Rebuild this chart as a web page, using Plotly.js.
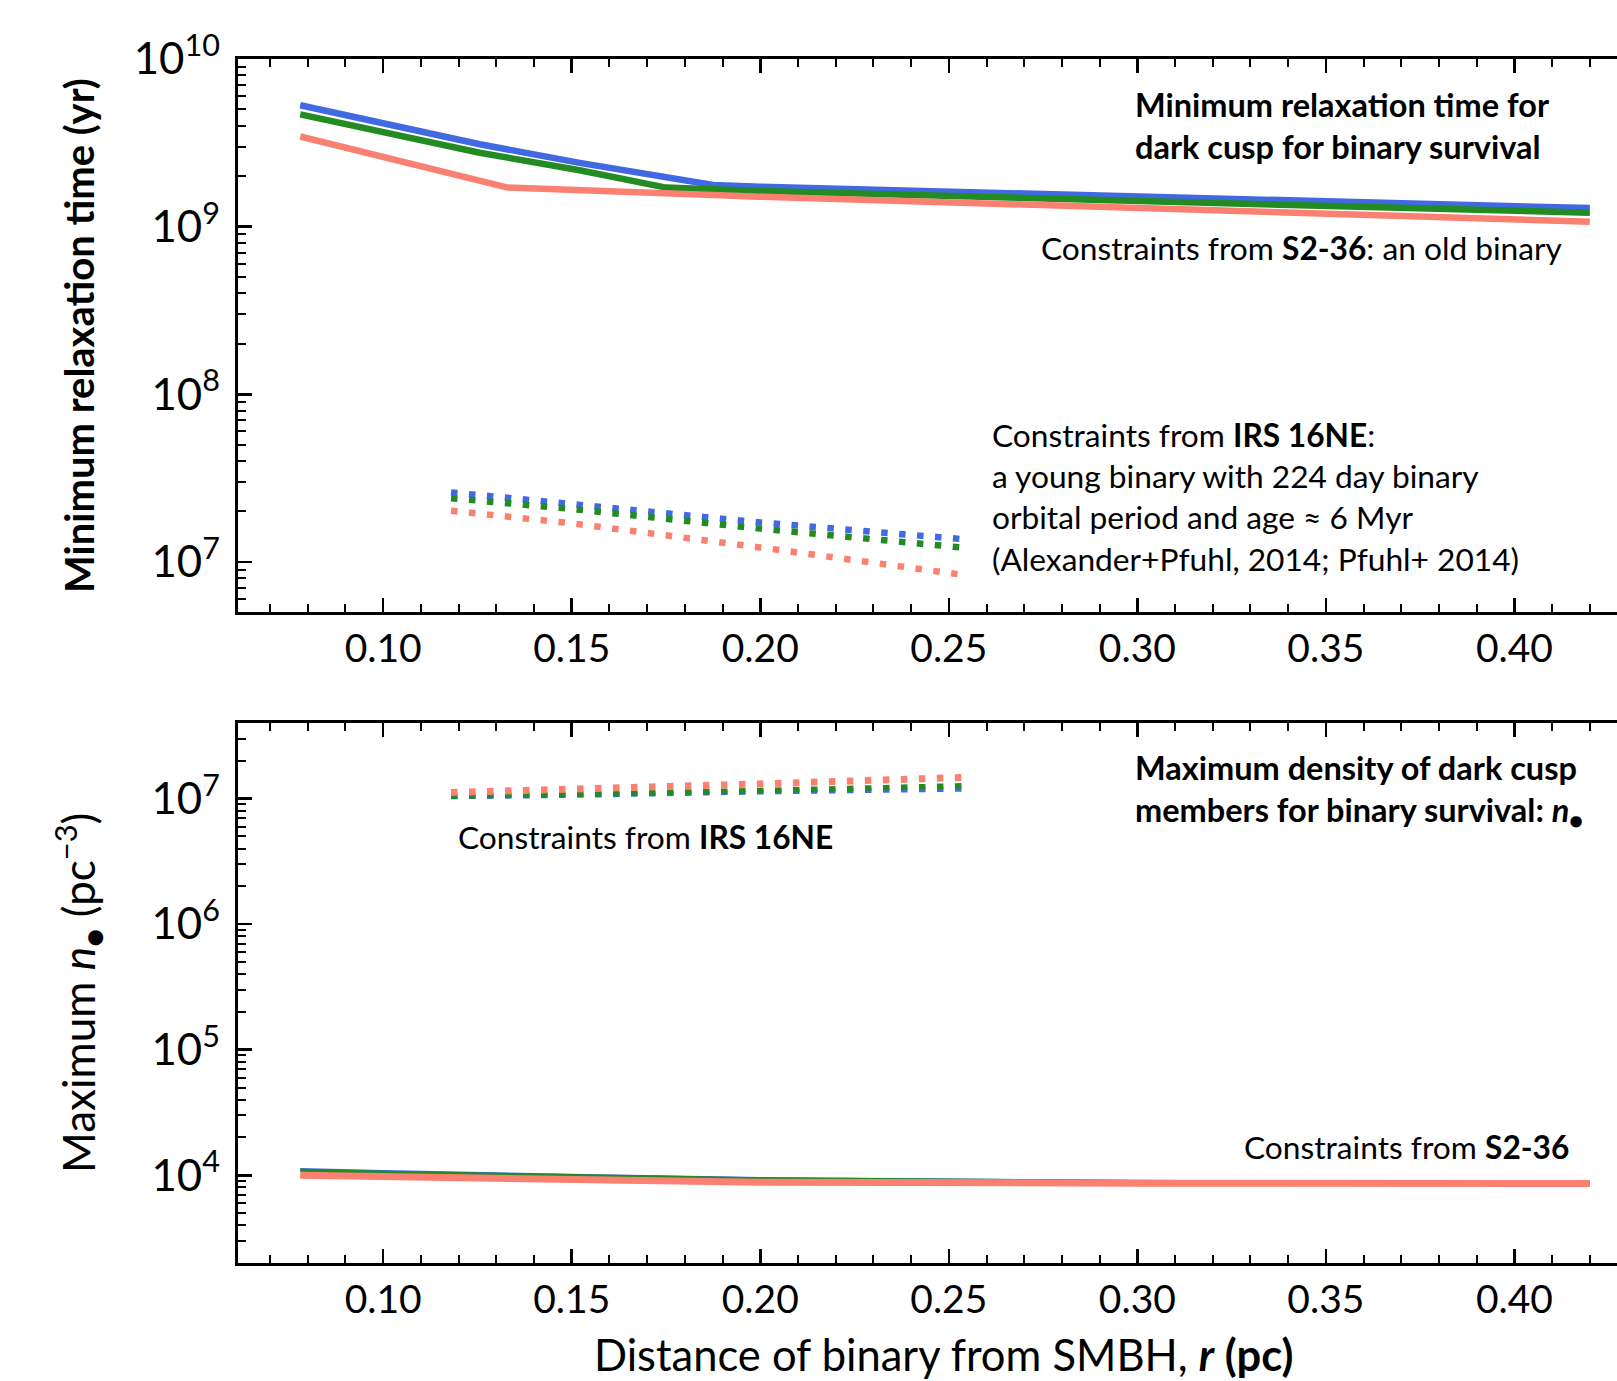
<!DOCTYPE html>
<html>
<head>
<meta charset="utf-8">
<script src="https://cdn.plot.ly/plotly-3.0.1.min.js"></script>
<style>
html,body{margin:0;padding:0;background:#fff;overflow:hidden;}
#chart{width:1617px;height:1381px;}
</style>
</head>
<body>
<div id="chart"></div>
<script>
// ---------- data ----------
// Top panel: minimum relaxation time (yr), constraints from S2-36 (solid)
const topBlueX  = [0.078, 0.099, 0.1256, 0.1521, 0.1698, 0.1875, 0.20, 0.30, 0.42];
const topBlueY  = [5.3e9, 4.15e9, 3.1e9, 2.4e9, 2.04e9, 1.77e9, 1.73e9, 1.51e9, 1.29e9];
const topGreenX = [0.078, 0.099, 0.1256, 0.1521, 0.1698, 0.175, 0.20, 0.25, 0.30, 0.35, 0.42];
const topGreenY = [4.67e9, 3.7e9, 2.76e9, 2.17e9, 1.79e9, 1.71e9, 1.63e9, 1.53e9, 1.42e9, 1.33e9, 1.21e9];
const topRedX   = [0.078, 0.099, 0.1124, 0.133, 0.20, 0.25, 0.30, 0.35, 0.42];
const topRedY   = [3.45e9, 2.65e9, 2.22e9, 1.71e9, 1.51e9, 1.40e9, 1.29e9, 1.19e9, 1.07e9];
// Top panel: constraints from IRS 16NE (dotted)
const dotX = [0.118, 0.15, 0.20, 0.255];
const topBlueDot  = [2.60e7, 2.23e7, 1.72e7, 1.36e7];
const topGreenDot = [2.40e7, 2.07e7, 1.58e7, 1.21e7];
const topRedDot   = [2.02e7, 1.70e7, 1.22e7, 8.3e6];
// Bottom panel: maximum n (pc^-3), S2-36 (solid)
const botX = [0.078, 0.10, 0.15, 0.20, 0.30, 0.42];
const botBlue  = [1.12e4, 1.08e4, 1.01e4, 9.5e3, 9.0e3, 8.75e3];
const botGreen = [1.09e4, 1.05e4, 9.9e3, 9.35e3, 8.9e3, 8.6e3];
const botRed   = [1.0e4, 9.75e3, 9.3e3, 8.8e3, 8.65e3, 8.6e3];
// Bottom panel: IRS 16NE (dotted)
const botBlueDot  = [1.035e7, 1.06e7, 1.13e7, 1.19e7];
const botGreenDot = [1.05e7, 1.08e7, 1.16e7, 1.27e7];
const botRedDot   = [1.12e7, 1.18e7, 1.31e7, 1.48e7];
// tick values
const xTickVals = [0.10, 0.15, 0.20, 0.25, 0.30, 0.35, 0.40];

// ---------- styling ----------
const BLUE = '#4169E1', GREEN = '#228B22', RED = '#FA8072';
const FONT = 'Lato, "Open Sans", sans-serif';
const DOT = '6.5px,11.5px';

function solid(x, y, c, w, ax){
  return {x:x, y:y, type:'scatter', mode:'lines', line:{color:c, width:w}, xaxis:ax[0], yaxis:ax[1], hoverinfo:'skip'};
}
function dotted(x, y, c, w, ax){
  return {x:x, y:y, type:'scatter', mode:'lines', line:{color:c, width:w, dash:DOT}, xaxis:ax[0], yaxis:ax[1], hoverinfo:'skip'};
}
const A1 = ['x','y'], A2 = ['x2','y2'];
const traces = [
  solid(topBlueX, topBlueY, BLUE, 6.5, A1),
  solid(topGreenX, topGreenY, GREEN, 6.5, A1),
  solid(topRedX, topRedY, RED, 6.5, A1),
  dotted(dotX, topBlueDot, BLUE, 6.5, A1),
  dotted(dotX, topGreenDot, GREEN, 6.5, A1),
  dotted(dotX, topRedDot, RED, 6.5, A1),
  solid(botX, botBlue, BLUE, 2, A2),
  solid(botX, botGreen, GREEN, 3.5, A2),
  solid(botX, botRed, RED, 7, A2),
  dotted(dotX, botBlueDot, BLUE, 5, A2),
  dotted(dotX, botGreenDot, GREEN, 5.5, A2),
  dotted(dotX, botRedDot, RED, 7, A2)
];

const L = 238, T = 59, PW = 1379, PH = 1204;
function px(x){ return (x - L) / PW; }
function py(y){ return 1 - (y - T) / PH; }

function xax(anchor){
  return {
    anchor: anchor, range:[0.0615, 0.4272], showgrid:false, zeroline:false,
    showline:true, linecolor:'black', linewidth:3, mirror:'allticks',
    ticks:'inside', ticklen:14, tickwidth:2.5, tickcolor:'black',
    tickvals: xTickVals, tickformat:'.2f',
    tickfont:{family:FONT, size:39, color:'black'},
    minor:{ticks:'inside', dtick:0.01, ticklen:8, tickwidth:2, tickcolor:'black', showgrid:false},
    ticklabelstandoff: 0
  };
}
function yax(anchor, range, domain){
  return {
    anchor: anchor, type:'log', range: range, domain: domain, showgrid:false, zeroline:false,
    showline:true, linecolor:'black', linewidth:3, mirror:false,
    ticks:'inside', ticklen:14, tickwidth:2.5, tickcolor:'black',
    dtick:1, exponentformat:'power',
    tickfont:{family:FONT, size:35, color:'black'},
    minor:{ticks:'inside', dtick:'D1', ticklen:8, tickwidth:2, tickcolor:'black', showgrid:false},
    ticklabelstandoff: 8
  };
}

const annFont = {family:FONT, size:31.7, color:'black'};
const annBold = {family:FONT, size:32.5, color:'black'};
function note(x, y, text, font, xanchor){
  return {xref:'paper', yref:'paper', x:px(x), y:py(y), xanchor:xanchor || 'left', yanchor:'middle',
          align:xanchor === 'right' ? 'right' : 'left', showarrow:false, text:text, font:font};
}
const annotations = [
  note(1133, 125.5, '<b>Minimum relaxation time for<br>dark cusp for binary survival</b>', annBold),
  note(1039, 248, 'Constraints from <b>S2-36</b>: an old binary', annFont),
  note(990, 497, 'Constraints from <b>IRS 16NE</b>:<br>a young binary with 224 day binary<br>orbital period and age ≈ 6 Myr<br>(Alexander+Pfuhl, 2014; Pfuhl+ 2014)', annFont),
  note(1133, 791, '<b>Maximum density of dark cusp<br>members for binary survival: <i>n</i><sub>●</sub></b>', annBold),
  note(456, 837, 'Constraints from <b>IRS 16NE</b>', annFont),
  note(1571, 1147, 'Constraints from <b>S2-36</b>', annFont, 'right'),
  {xref:'paper', yref:'paper', x:px(79), y:py(336), xanchor:'center', yanchor:'middle', textangle:-90, showarrow:false,
   text:'<b>Minimum relaxation time (yr)</b>', font:{family:FONT, size:40, color:'black'}},
  {xref:'paper', yref:'paper', x:px(79), y:py(993), xanchor:'center', yanchor:'middle', textangle:-90, showarrow:false,
   text:'Maximum <i>n</i><sub>●</sub> (pc<sup>−3</sup>)', font:{family:FONT, size:44, color:'black'}},
  {xref:'paper', yref:'paper', x:px(943), y:py(1354), xanchor:'center', yanchor:'middle', showarrow:false,
   text:'Distance of binary from SMBH, <b><i>r</i> (pc)</b>', font:{family:FONT, size:43.5, color:'black'}}
];

const topDomain = [1 - (612.4 - T) / PH, 1];
const botDomain = [0, 1 - (722.7 - T) / PH];

const layout = {
  width:1617, height:1381,
  margin:{l:L, r:0, t:T, b:118, pad:0},
  paper_bgcolor:'white', plot_bgcolor:'white',
  showlegend:false,
  font:{family:FONT, color:'black'},
  xaxis: xax('y'),
  yaxis: yax('x', [Math.log10(5e6), 10], topDomain),
  xaxis2: xax('y2'),
  yaxis2: yax('x2', [Math.log10(2e3), 7.605], botDomain),
  annotations: annotations
};

Plotly.newPlot('chart', traces, layout, {displayModeBar:false, staticPlot:true});
</script>
</body>
</html>
